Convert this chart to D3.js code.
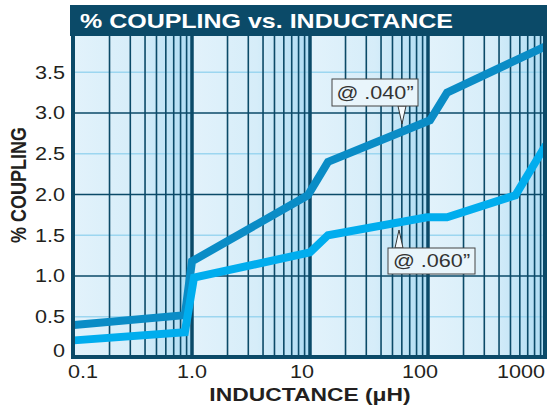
<!DOCTYPE html>
<html>
<head>
<meta charset="utf-8">
<script src="https://cdn.jsdelivr.net/npm/d3@7"></script>
<style>
  body { margin: 0; background: #fff; }
  text { font-family: "Liberation Sans", Arial, Helvetica, sans-serif; }
</style>
</head>
<body>
<div id="chart"></div>
<script>
// % Coupling vs. Inductance

// Data
const inductance040 = [0.1, 0.87, 1.0, 9.6, 14.2, 104, 145, 1000];
const coupling040   = [0.40, 0.52, 1.18, 1.99, 2.40, 2.91, 3.25, 3.82];
const inductance060 = [0.1, 0.87, 1.04, 10, 14.2, 98, 145, 550, 1000];
const coupling060   = [0.21, 0.31, 0.98, 1.29, 1.50, 1.72, 1.72, 1.99, 2.61];

const xTicks = [0.1, 1, 10, 100, 1000];
const xTickLabels = ["0.1", "1.0", "10", "100", "1000"];
const yTicks = [0, 0.5, 1, 1.5, 2, 2.5, 3, 3.5];
const yTickLabels = ["0", "0.5", "1.0", "1.5", "2.0", "2.5", "3.0", "3.5"];

const width = 547;
const height = 406;

const dark = "#0b4a68";
const ink = "#231f20";
// the original type is a bit wider than Liberation Sans
const stretch = 1.2;

const svg = d3.select("#chart")
  .append("svg")
  .attr("width", width)
  .attr("height", height);

const x = d3.scaleLog()
    .domain([0.1, 1000])
    .range([74, 546]);

const y = d3.scaleLinear()
    .domain([0, 3.95])
    .range([357.5, 35.5]);

const plotLeft = 73, plotRight = 545, plotTop = 35, plotBottom = 357;

// Gradient for each decade band
const defs = svg.append("defs");
const grad = defs.append("linearGradient")
    .attr("id", "band")
    .attr("x1", 0).attr("x2", 1).attr("y1", 0).attr("y2", 0);
grad.append("stop").attr("offset", 0).attr("stop-color", "#e2f2fb");
grad.append("stop").attr("offset", 0.55).attr("stop-color", "#d6edf9");
grad.append("stop").attr("offset", 1).attr("stop-color", "#aedcf3");

defs.append("clipPath")
    .attr("id", "clip")
  .append("rect")
    .attr("x", plotLeft)
    .attr("y", plotTop)
    .attr("width", plotRight - plotLeft)
    .attr("height", plotBottom - plotTop);

const plot = svg.append("g").attr("clip-path", "url(#clip)");

// Decade bands
plot.selectAll("rect.band")
  .data([0.1, 1, 10, 100])
  .join("rect")
    .attr("class", "band")
    .attr("x", d => x(d))
    .attr("y", plotTop)
    .attr("width", d => x(d * 10) - x(d))
    .attr("height", plotBottom - plotTop)
    .attr("fill", "url(#band)");

// Horizontal grid: half units light, whole units dark
plot.selectAll("line.hhalf")
  .data([0.5, 1.5, 2.5, 3.5])
  .join("line")
    .attr("class", "hhalf")
    .attr("x1", plotLeft).attr("x2", plotRight)
    .attr("y1", d => y(d)).attr("y2", d => y(d))
    .attr("stroke", "#9cd6f0")
    .attr("stroke-width", 1.5);

// Minor vertical grid
const minor = [];
[0.1, 1, 10, 100].forEach(dec => {
  for (let k = 2; k <= 9; k++) minor.push(dec * k);
});
plot.selectAll("line.vminor")
  .data(minor)
  .join("line")
    .attr("class", "vminor")
    .attr("x1", d => x(d)).attr("x2", d => x(d))
    .attr("y1", plotTop).attr("y2", plotBottom)
    .attr("stroke", dark)
    .attr("stroke-width", 1.6);

plot.selectAll("line.hmajor")
  .data([1, 2, 3])
  .join("line")
    .attr("class", "hmajor")
    .attr("x1", plotLeft).attr("x2", plotRight)
    .attr("y1", d => y(d)).attr("y2", d => y(d))
    .attr("stroke", dark)
    .attr("stroke-width", 1.6);

// Decade lines
plot.selectAll("line.vmajor")
  .data([1, 10, 100])
  .join("line")
    .attr("class", "vmajor")
    .attr("x1", d => x(d)).attr("x2", d => x(d))
    .attr("y1", plotTop).attr("y2", plotBottom)
    .attr("stroke", dark)
    .attr("stroke-width", 3.5);

// Curves
const line = d3.line()
    .x(d => x(d[0]))
    .y(d => y(d[1]));

const series = [
  { pts: d3.zip(inductance040, coupling040), color: "#0a8cc6" },
  { pts: d3.zip(inductance060, coupling060), color: "#00adee" }
];

plot.selectAll("path.curve")
  .data(series)
  .join("path")
    .attr("class", "curve")
    .attr("d", d => line(d.pts))
    .attr("fill", "none")
    .attr("stroke", d => d.color)
    .attr("stroke-width", 8)
    .attr("stroke-linejoin", "miter");

// Frame
svg.append("path")
    .attr("d", `M${plotLeft},${plotTop} V${plotBottom} H${plotRight} V${plotTop}`)
    .attr("fill", "none")
    .attr("stroke", dark)
    .attr("stroke-width", 4);

// Title bar
svg.append("rect")
    .attr("x", 70).attr("y", 5)
    .attr("width", width - 70).attr("height", 31)
    .attr("fill", dark);

const at = (px, py, sx = stretch) => `translate(${px},${py}) scale(${sx},1)`;

svg.append("text")
    .attr("transform", at(80, 28, 1.19))
    .attr("fill", "#fff")
    .attr("font-size", 21)
    .attr("font-weight", "bold")
    .text("% COUPLING vs. INDUCTANCE");

// Axis tick labels
svg.selectAll("text.ylab")
  .data(yTicks)
  .join("text")
    .attr("class", "ylab")
    .attr("transform", d => at(65, y(d) - (d === 0 ? 7 : 0)))
    .attr("dy", "0.36em")
    .attr("text-anchor", "end")
    .attr("font-size", 18)
    .attr("fill", ink)
    .text((d, i) => yTickLabels[i]);

const xAnchor = ["start", "middle", "middle", "middle", "end"];
const xShift = [-6, 0, -8, -8, 0];
svg.selectAll("text.xlab")
  .data(xTicks)
  .join("text")
    .attr("class", "xlab")
    .attr("transform", (d, i) => at(Math.min(x(d), 545) + xShift[i], 378))
    .attr("text-anchor", (d, i) => xAnchor[i])
    .attr("font-size", 18)
    .attr("fill", ink)
    .text((d, i) => xTickLabels[i]);

// Axis titles
svg.append("text")
    .attr("transform", at(310, 401, 1.27))
    .attr("text-anchor", "middle")
    .attr("font-size", 18)
    .attr("font-weight", "bold")
    .attr("fill", ink)
    .text("INDUCTANCE (\u03bcH)");

svg.append("text")
    .attr("transform", "translate(26,185) rotate(-90) scale(1,1.2)")
    .attr("text-anchor", "middle")
    .attr("font-size", 18)
    .attr("font-weight", "bold")
    .attr("fill", ink)
    .text("% COUPLING");

// Callouts
function callout(label, bx, by, bw, bh, tipX, tipY, down) {
  const g = svg.append("g");
  const baseY = down ? by + bh : by;
  g.append("path")
      .attr("d", `M${tipX - 4},${baseY} L${tipX},${tipY} L${tipX + 4},${baseY} Z`)
      .attr("fill", "#f4fafd")
      .attr("stroke", "#333")
      .attr("stroke-width", 1);
  g.append("rect")
      .attr("x", bx).attr("y", by)
      .attr("width", bw).attr("height", bh)
      .attr("fill", "#e9f5fb")
      .attr("stroke", "#444")
      .attr("stroke-width", 1);
  g.append("text")
      .attr("transform", at(bx + bw / 2, by + bh / 2))
      .attr("dy", "0.36em")
      .attr("text-anchor", "middle")
      .attr("font-size", 18)
      .attr("fill", "#333")
      .text(label);
}

callout("@ .040\u201d", 332, 79, 86, 27, 402, 124, true);
callout("@ .060\u201d", 388, 248, 87, 26, 399, 230, false);
</script>
</body>
</html>
